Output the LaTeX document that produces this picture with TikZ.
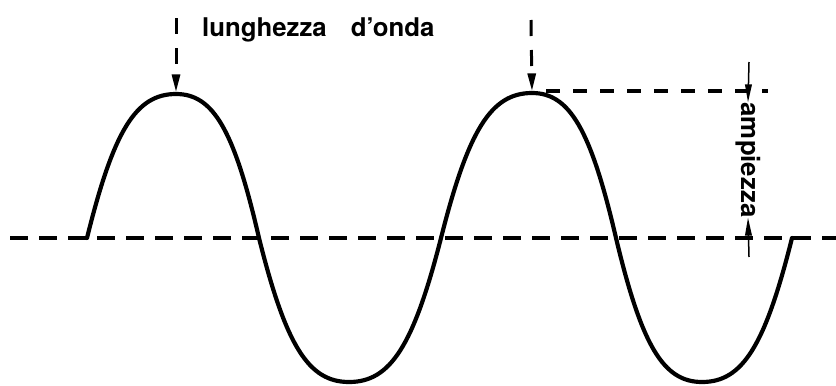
\documentclass[tikz,border=0pt]{standalone}
\usepackage{fontspec}
\setmainfont{TeX Gyre Heros}
\usetikzlibrary{positioning,arrows.meta}

\begin{document}
\begin{tikzpicture}[x=0.3mm,y=-0.3mm,
  wave/.style={line width=1.25mm,line join=round,line cap=round},
  axisline/.style={line width=1.05mm,dash pattern=on 5.4mm off 3.3mm},
  levelline/.style={line width=1mm,dash pattern=on 4.2mm off 3.9mm},
  marker/.style={line width=0.9mm,dash pattern=on 4.8mm off 4.2mm,shorten >=0.5mm,-{Triangle[length=5.4mm,width=2.4mm]}},
  dimarrow/.style={line width=0.45mm,-{Triangle[length=5.4mm,width=2mm]}},
  wavetext/.style={font=\fontsize{22}{26}\selectfont\bfseries,inner sep=0pt}]
\useasboundingbox (0,0) rectangle (836,385);
% punti della curva
\coordinate (start) at (87,238);
\coordinate (peakone) at (176,94);
\coordinate (zeroone) at (259,238);
\coordinate (troughone) at (349,382);
\coordinate (zerotwo) at (441,238);
\coordinate (peaktwo) at (532,93);
\coordinate (zerothree) at (616,238);
\coordinate (troughtwo) at (702,382);
\coordinate (finish) at (792,238);
% asse
\coordinate (axisL) at (10,238);
\coordinate (axisR) at (836,238);
\draw[axisline] (axisL) -- (axisR);
% onda
\draw[wave] (start) .. controls (113.7,130) and (136,94) .. (peakone)
  .. controls (213.4,94) and (234.1,130) .. (zeroone)
  .. controls (286,346) and (308.5,382) .. (troughone)
  .. controls (390.4,382) and (413.4,346) .. (zerotwo)
  .. controls (468.3,130) and (491,93) .. (peaktwo)
  .. controls (569.8,93) and (590.8,130) .. (zerothree)
  .. controls (641.8,346) and (663.3,382) .. (troughtwo)
  .. controls (742.5,382) and (765,346) .. (finish);
% lunghezza d'onda
\node[wavetext,anchor=base west] (wavelength) at (202,36) {lunghezza\hspace{7.2mm}d'onda};
\coordinate (markone) at (176,18);
\coordinate (marktwo) at (531,20);
\draw[marker] (markone) -- (peakone);
\draw[marker] (marktwo) -- (peaktwo);
% ampiezza
\coordinate (levelstart) at (546,91);
\coordinate (levelend) at (768,91);
\draw[levelline] (levelstart) -- (levelend);
\node[wavetext,rotate=-90] (amplitude) at (748,160) {ampiezza};
\coordinate (dimtop) at (749,62);
\coordinate (dimbottom) at (749,257);
\draw[dimarrow] (dimtop) -- (amplitude.west);
\draw[dimarrow] (dimbottom) -- (amplitude.east);
\end{tikzpicture}
\end{document}
